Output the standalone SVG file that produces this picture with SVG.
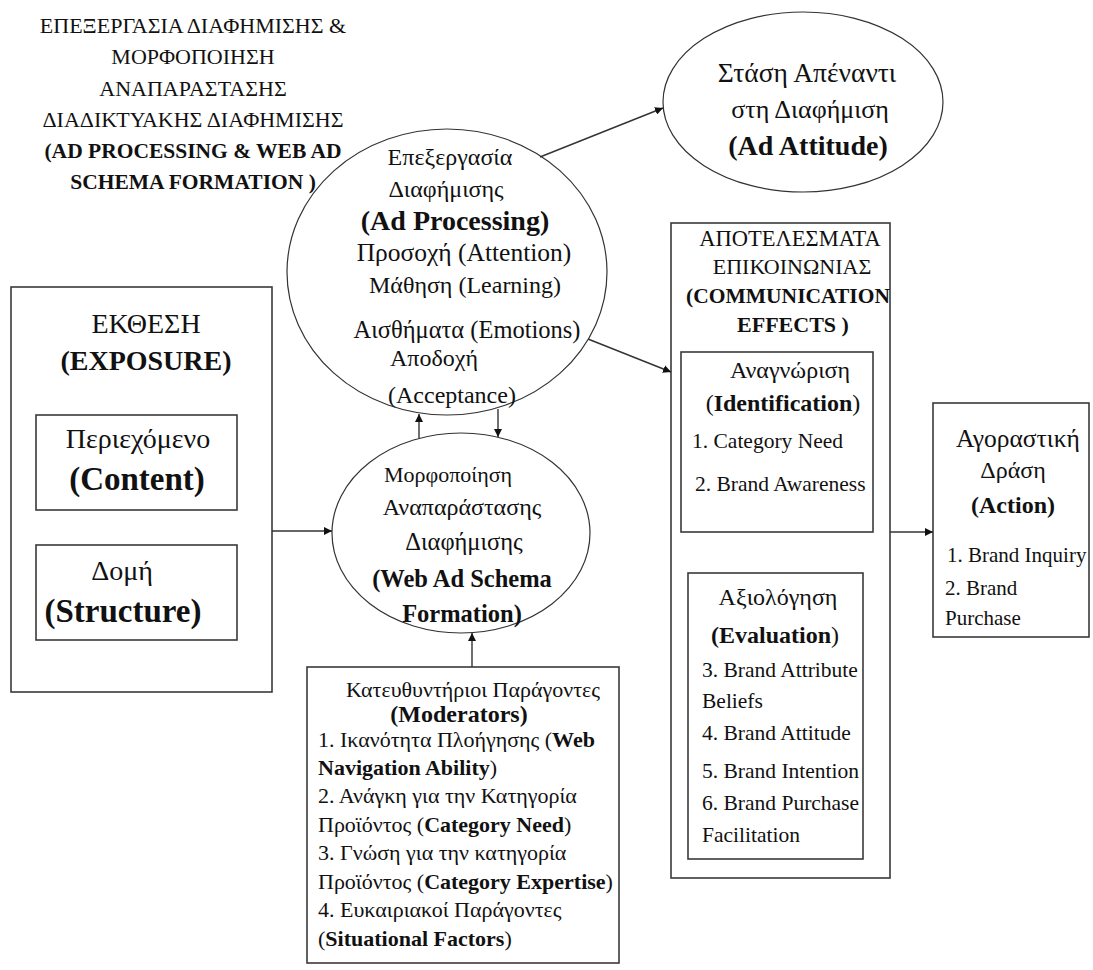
<svg xmlns="http://www.w3.org/2000/svg" width="1093" height="970" viewBox="0 0 1093 970" font-family="'Liberation Serif', 'Times New Roman', Tinos, 'DejaVu Serif', serif">
  <style>
    text { font-family: "Liberation Serif", "Times New Roman", Tinos, "DejaVu Serif", serif; fill: #111; }
    .c { text-anchor: middle; }
    .b { font-weight: bold; }
    .box { fill: none; stroke: #3a3a3a; stroke-width: 1.6; }
    .ell { fill: none; stroke: #333; stroke-width: 1.2; }
    .wire { fill: none; stroke: #333; stroke-width: 1.4; }
    .f21 { font-size: 21px; }
    .f215 { font-size: 21.5px; }
    .f22 { font-size: 22px; }
    .f24 { font-size: 24px; }
    .f245 { font-size: 24.5px; }
    .f26 { font-size: 26px; }
    .f28 { font-size: 28px; }
    .f33 { font-size: 33px; }
  </style>
  <defs>
    <marker id="arrow" viewBox="0 0 10 10" refX="10" refY="5" markerWidth="8" markerHeight="8" markerUnits="userSpaceOnUse" orient="auto">
      <path d="M0,0 L10,5 L0,10 z" fill="#111"/>
    </marker>
  </defs>
  <rect width="1093" height="970" fill="#fff"/>

  <!-- heading -->
  <g id="heading" class="f22 c">
    <text x="193" y="33">ΕΠΕΞΕΡΓΑΣΙΑ ΔΙΑΦΗΜΙΣΗΣ &amp;</text>
    <text x="193" y="64">ΜΟΡΦΟΠΟΙΗΣΗ</text>
    <text x="193" y="96">ΑΝΑΠΑΡΑΣΤΑΣΗΣ</text>
    <text x="193" y="127">ΔΙΑΔΙΚΤΥΑΚΗΣ ΔΙΑΦΗΜΙΣΗΣ</text>
    <text x="193" y="158" class="b f215">(AD PROCESSING &amp; WEB AD</text>
    <text x="193" y="189" class="b f215">SCHEMA FORMATION )</text>
  </g>

  <!-- ad processing ellipse -->
  <g id="ad-processing">
    <ellipse class="ell" cx="447" cy="272" rx="160" ry="143"/>
    <text x="450" y="165" class="f24 c">Επεξεργασία</text>
    <text x="446" y="197" class="f24 c">Διαφήμισης</text>
    <text x="455" y="230" class="f28 c b">(Ad Processing)</text>
    <text x="464" y="261" style="font-size:25.5px" class="c">Προσοχή (Attention)</text>
    <text x="465" y="293" class="f24 c">Μάθηση (Learning)</text>
    <text x="467" y="338" style="font-size:24.5px" class="c">Αισθήματα (Emotions)</text>
    <text x="390" y="366" class="f24">Αποδοχή</text>
    <text x="388" y="403" class="f24">(Acceptance)</text>
  </g>

  <!-- ad attitude ellipse -->
  <g id="ad-attitude">
    <ellipse class="ell" cx="803" cy="102" rx="140" ry="90"/>
    <text x="807" y="82" style="font-size:27.5px" class="c">Στάση Απέναντι</text>
    <text x="810" y="118" class="f26 c">στη Διαφήμιση</text>
    <text x="808" y="155" class="f28 c b">(Ad Attitude)</text>
  </g>

  <!-- exposure -->
  <g id="exposure">
    <rect class="box" x="11" y="287" width="261" height="405"/>
    <text x="146" y="333" class="f28 c">ΕΚΘΕΣΗ</text>
    <text x="146" y="370" class="f28 c b">(EXPOSURE)</text>
    <rect class="box" x="36" y="415" width="201" height="95"/>
    <text x="138" y="448" class="f28 c">Περιεχόμενο</text>
    <text x="137" y="490" class="f33 c b">(Content)</text>
    <rect class="box" x="36" y="545" width="201" height="95"/>
    <text x="122" y="580" class="f28 c">Δομή</text>
    <text x="123" y="622" class="f33 c b">(Structure)</text>
  </g>

  <!-- web ad schema formation ellipse -->
  <g id="schema-formation">
    <ellipse class="ell" cx="461" cy="533" rx="129" ry="100"/>
    <text x="448" y="482" class="f22 c">Μορφοποίηση</text>
    <text x="462" y="515" class="f24 c">Αναπαράστασης</text>
    <text x="464" y="550" class="f245 c">Διαφήμισης</text>
    <text x="462" y="587" class="f245 c b">(Web Ad Schema</text>
    <text x="462" y="622" class="f245 c b">Formation)</text>
  </g>

  <!-- moderators -->
  <g id="moderators" class="f22">
    <rect class="box" x="307" y="667" width="312" height="296"/>
    <text x="473" y="697" class="c">Κατευθυντήριοι Παράγοντες</text>
    <text x="459" y="722" class="c b f24">(Moderators)</text>
    <text x="318" y="747">1. Ικανότητα Πλοήγησης (<tspan class="b">Web</tspan></text>
    <text x="318" y="775"><tspan class="b">Navigation Ability</tspan>)</text>
    <text x="318" y="803">2. Ανάγκη για την Κατηγορία</text>
    <text x="318" y="832">Προϊόντος (<tspan class="b">Category Need</tspan>)</text>
    <text x="318" y="860">3. Γνώση για την κατηγορία</text>
    <text x="318" y="889">Προϊόντος (<tspan class="b">Category Expertise</tspan>)</text>
    <text x="318" y="917">4. Ευκαιριακοί Παράγοντες</text>
    <text x="318" y="946">(<tspan class="b">Situational Factors</tspan>)</text>
  </g>

  <!-- communication effects -->
  <g id="communication-effects" class="f22">
    <rect class="box" x="671" y="223" width="219" height="655"/>
    <text x="790" y="246" style="font-size:22.5px" class="c">ΑΠΟΤΕΛΕΣΜΑΤΑ</text>
    <text x="792" y="274" class="c">ΕΠΙΚΟΙΝΩΝΙΑΣ</text>
    <text x="788" y="303" class="c b f215">(COMMUNICATION</text>
    <text x="793" y="332" class="c b">EFFECTS )</text>
  </g>
  <g id="identification" class="f215">
    <rect class="box" x="681" y="352" width="192" height="180"/>
    <text x="790" y="378" class="c f24">Αναγνώριση</text>
    <text x="783" y="411" class="c f24">(<tspan class="b">Identification</tspan>)</text>
    <text x="692" y="448">1. Category Need</text>
    <text x="695" y="491">2. Brand Awareness</text>
  </g>
  <g id="evaluation" class="f215">
    <rect class="box" x="688" y="573" width="175" height="286"/>
    <text x="778" y="605" class="c f24">Αξιολόγηση</text>
    <text x="775" y="643" class="c f24"><tspan class="b">(Evaluation</tspan>)</text>
    <text x="702" y="677">3. Brand Attribute</text>
    <text x="702" y="708">Beliefs</text>
    <text x="702" y="740">4. Brand Attitude</text>
    <text x="702" y="778">5. Brand Intention</text>
    <text x="702" y="810">6. Brand Purchase</text>
    <text x="702" y="842">Facilitation</text>
  </g>

  <!-- action -->
  <g id="action" class="f21">
    <rect class="box" x="933" y="403" width="156" height="234"/>
    <text x="1018" y="447" style="font-size:25.5px" class="c">Αγοραστική</text>
    <text x="1013" y="478" class="c f24">Δράση</text>
    <text x="1013" y="513" class="c f24 b">(Action)</text>
    <text x="947" y="562">1. Brand Inquiry</text>
    <text x="945" y="595">2. Brand</text>
    <text x="945" y="625">Purchase</text>
  </g>

  <!-- connectors -->
  <g id="connectors" class="wire" marker-end="url(#arrow)">
    <line x1="540" y1="157" x2="663" y2="108"/>
    <line x1="588" y1="339" x2="671" y2="372"/>
    <line x1="272" y1="531" x2="332" y2="531"/>
    <line x1="419" y1="438" x2="419" y2="414"/>
    <line x1="498" y1="409" x2="498" y2="437"/>
    <line x1="472" y1="667" x2="472" y2="633"/>
    <line x1="890" y1="532" x2="933" y2="532"/>
  </g>
</svg>
